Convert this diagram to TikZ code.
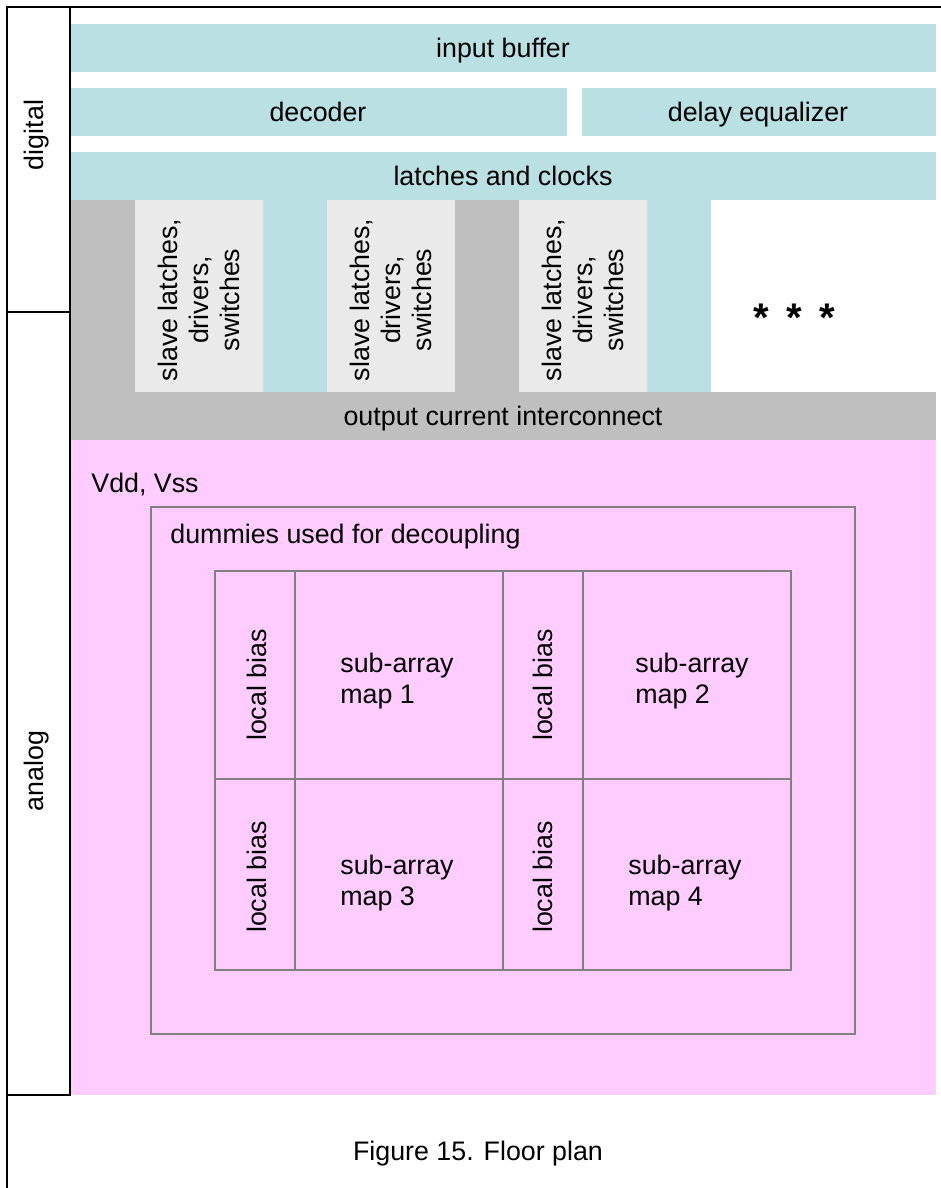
\documentclass[tikz,border=0pt]{standalone}
\usepackage{fontspec}
\setmainfont{Liberation Sans}
\usepackage{xcolor}
\definecolor{lagoon}{RGB}{186,224,227}
\definecolor{slab}{RGB}{191,191,191}
\definecolor{mist}{RGB}{234,234,234}
\definecolor{orchid}{RGB}{255,204,255}
\definecolor{rulegray}{RGB}{128,128,128}
\usepackage{tikz}
\usetikzlibrary{positioning}
\tikzset{
  %% Labels: plain, in a bar, vertical, stars
  lbl/.style={font=\fontsize{13.4}{15.5}\selectfont, inner sep=0pt, align=center},
  barlbl/.style={lbl, text height=0.72em, text depth=0.21em},
  vlbl/.style={lbl, rotate=90},
  starlbl/.style={font=\fontsize{20}{20}\selectfont\bfseries, inner sep=0pt, anchor=base},
  %% Lines
  frame/.style={draw=black, line width=1pt},
  cellline/.style={draw=rulegray, line width=1pt},
}

\begin{document}
\begin{tikzpicture}[x=0.5pt,y=-0.5pt]
\useasboundingbox (0,0) rectangle (941,1188);
%% digital part
\fill[lagoon] (70,24) rectangle (936,72);
\fill[lagoon] (70,88) rectangle (567,136);
\fill[lagoon] (582,88) rectangle (936,136);
\fill[lagoon] (70,152) rectangle (936,200);
\fill[slab] (70,200) rectangle (936,440);
\fill[white] (711,200) rectangle (936,392);
\foreach \xa in {263,647} \fill[lagoon] (\xa,200) rectangle ++(64,192);
\foreach \xa in {135,327,519} \fill[mist] (\xa,200) rectangle ++(128,192);
%% analog part
\fill[orchid] (70,440) rectangle (936,1095);
\draw[cellline] (151,507) rectangle (855,1034);
\draw[cellline] (215,571) rectangle (791,970);
\draw[cellline] (215,779) -- (791,779);
\foreach \xa in {295,503,583} \draw[cellline] (\xa,571) -- (\xa,970);
%% frame
\draw[frame] (941,7) -- (7,7) -- (7,1188);
\draw[frame] (70,7) -- (70,1095) -- (7,1095);
\draw[frame] (7,312) -- (70,312);

\node[vlbl] (digital) at (37,135) {digital};
\node[vlbl] (analog) at (37,771) {analog};
\node[barlbl] (inbuf) at (503,52) {input buffer};
\node[barlbl] (decoder) at (318,116) {decoder};
\node[barlbl] (delayeq) at (758,116) {delay equalizer};
\node[barlbl] (latches) at (503,180) {latches and clocks};
\foreach \xa/\nm in {199/slaveA,391/slaveB,583/slaveC}
  \node[vlbl] (\nm) at (\xa,300) {slave latches,\\drivers,\\switches};
\node[starlbl] (dots) at (794,331) {*\kern8.7pt*\kern8.7pt*};
\node[barlbl] (outcur) at (503,420) {output current interconnect};
\node[lbl, anchor=base west] (supply) at (91,492) {Vdd, Vss};
\node[lbl, anchor=base west] (dummies) at (170,543) {dummies used for decoupling};
\foreach \ya/\nm in {685/biasA,877/biasC}
  \node[vlbl] (\nm) at (257,\ya) {local bias};
\foreach \ya/\nm in {685/biasB,877/biasD}
  \node[vlbl] (\nm) at (543,\ya) {local bias};
\node[lbl, align=left, anchor=west] (mapA) at (340,681) {sub-array\\map 1};
\node[lbl, align=left, anchor=west] (mapB) at (635,681) {sub-array\\map 2};
\node[lbl, align=left, anchor=west] (mapC) at (340,883) {sub-array\\map 3};
\node[lbl, align=left, anchor=west] (mapD) at (628,883) {sub-array\\map 4};
\node[lbl, anchor=base] (caption) at (478,1160) {Figure 15. Floor plan};
\end{tikzpicture}
\end{document}
